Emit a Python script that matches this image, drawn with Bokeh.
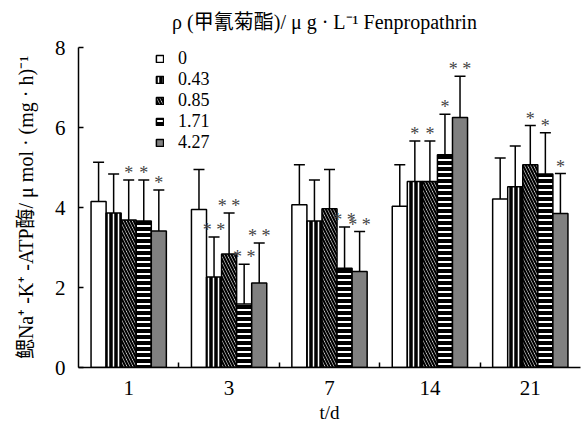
import numpy as np
from bokeh.plotting import figure
from bokeh.models import (Range1d, FixedTicker, Whisker, TeeHead, ColumnDataSource,
                          Legend, LegendItem)
from bokeh.embed import file_html
from bokeh.resources import INLINE
from bokeh.core.properties import value

# ---------------- data ----------------
days = ["1", "3", "7", "14", "21"]
conc_labels = ["0", "0.43", "0.85", "1.71", "4.27"]

mean_0   = [4.15, 3.95, 4.07, 4.03, 4.21]
mean_043 = [3.86, 2.26, 3.66, 4.65, 4.52]
mean_085 = [3.69, 2.84, 3.97, 4.65, 5.07]
mean_171 = [3.66, 1.59, 2.48, 5.32, 4.84]
mean_427 = [3.41, 2.11, 2.40, 6.25, 3.85]

sd_0   = [0.98, 1.00, 1.00, 1.04, 1.03]
sd_043 = [0.98, 1.00, 1.03, 1.01, 1.02]
sd_085 = [1.00, 1.02, 0.98, 1.01, 0.98]
sd_171 = [1.03, 0.99, 1.03, 1.01, 1.03]
sd_427 = [1.03, 1.00, 1.00, 1.03, 1.00]

sig_0   = ["", "", "", "", ""]
sig_043 = ["", "* *", "", "*", ""]
sig_085 = ["*", "* *", "", "*", "*"]
sig_171 = ["*", "* *", "* *", "*", "*"]
sig_427 = ["*", "* *", "* *", "* *", "*"]

means = [mean_0, mean_043, mean_085, mean_171, mean_427]
sds = [sd_0, sd_043, sd_085, sd_171, sd_427]
sigs = [sig_0, sig_043, sig_085, sig_171, sig_427]

# ---------------- styles ----------------
SERIF = "Liberation Serif, Noto Sans CJK SC"
styles = [
    dict(fill_color="white", hatch_pattern=None),
    dict(fill_color="black", hatch_pattern="vertical_line", hatch_color="white",
         hatch_scale=5, hatch_weight=1.5),
    dict(fill_color="white", hatch_pattern="left_diagonal_line", hatch_color="black",
         hatch_scale=6, hatch_weight=2.2),
    dict(fill_color="black", hatch_pattern="horizontal_line", hatch_color="white",
         hatch_scale=6, hatch_weight=2),
    dict(fill_color="#808080", hatch_pattern=None),
]

p = figure(width=586, height=428, output_backend="svg", toolbar_location=None,
           x_range=Range1d(0, len(days)), y_range=Range1d(0, 8),
           min_border_left=78, min_border_right=6, min_border_top=47,
           min_border_bottom=61)
p.outline_line_color = None
p.xgrid.grid_line_color = None
p.ygrid.grid_line_color = None

centers = np.arange(len(days)) + 0.5
bar_w = 0.15
offsets = (np.arange(len(conc_labels)) - (len(conc_labels) - 1) / 2) * bar_w

items = []
for i, lab in enumerate(conc_labels):
    m = np.array(means[i])
    s = np.array(sds[i])
    src = ColumnDataSource(dict(x=centers + offsets[i], mean=m, upper=m + s,
                                sig=sigs[i]))
    st = dict(styles[i])
    hp = st.pop("hatch_pattern")
    kw = dict(st)
    if hp is not None:
        kw["hatch_pattern"] = hp
    r = p.vbar(x="x", top="mean", width=bar_w, source=src, line_color="black",
               line_width=1.5, **kw)
    w = Whisker(base="x", upper="upper", lower="mean", source=src,
                upper_head=TeeHead(size=11, line_width=1.5, line_color="black"),
                lower_head=None, line_width=1.5, line_color="black")
    p.add_layout(w)
    p.text(x="x", y="upper", text="sig", source=src, text_font=value("Liberation Serif"),
           text_font_size="18px", text_align="center", text_baseline="alphabetic",
           y_offset=-7, text_color="#444444")
    items.append(LegendItem(label=lab, renderers=[r]))

legend = Legend(items=items, location=(77, 214), label_text_font=SERIF,
                label_text_font_size="18px", label_text_color="black",
                glyph_height=9, glyph_width=9,
                label_height=14, spacing=0, padding=0, margin=0,
                border_line_color=None, background_fill_alpha=0,
                label_standoff=14)
p.add_layout(legend)

p.title.text = "\u03c1 (甲氰菊酯)/ \u03bc g \u00b7 L\u207b\u00b9   Fenpropathrin\n"
p.title.align = "center"
p.title.vertical_align = "bottom"
p.title.text_font = SERIF
p.title.text_font_size = "20px"
p.title.text_font_style = "normal"
p.title.text_color = "black"
p.title.text_line_height = 0.65
p.title.standoff = 0

# y axis
p.yaxis.ticker = FixedTicker(ticks=[0, 2, 4, 6, 8])
p.yaxis.major_tick_in = 5
p.yaxis.major_tick_out = 0
p.yaxis.minor_tick_line_color = None
p.yaxis.axis_line_width = 1.5
p.yaxis.major_tick_line_width = 1.5
p.yaxis.major_label_text_font = SERIF
p.yaxis.major_label_text_font_size = "21px"
p.yaxis.major_label_text_color = "black"
p.yaxis.major_label_standoff = 13
p.yaxis.axis_label = "鳃Na\u207a -K\u207a -ATP酶/ \u03bc mol \u00b7 (mg \u00b7 h)\u207b\u00b9"
p.yaxis.axis_label_text_font = SERIF
p.yaxis.axis_label_text_font_size = "20px"
p.yaxis.axis_label_text_font_style = "normal"
p.yaxis.axis_label_text_color = "black"
p.yaxis.axis_label_standoff = 15

# x axis
p.xaxis.ticker = FixedTicker(ticks=list(centers), minor_ticks=list(np.arange(1, len(days))))
p.xaxis.major_label_overrides = {float(c): d for c, d in zip(centers, days)}
p.xaxis.major_tick_line_color = None
p.xaxis.major_tick_in = 0
p.xaxis.major_tick_out = 0
p.xaxis.minor_tick_in = 5
p.xaxis.minor_tick_out = 0
p.xaxis.minor_tick_line_width = 1.5
p.xaxis.axis_line_width = 1.5
p.xaxis.major_label_text_font = SERIF
p.xaxis.major_label_text_font_size = "21px"
p.xaxis.major_label_text_color = "black"
p.xaxis.major_label_standoff = 13
p.xaxis.axis_label = "t/d"
p.xaxis.axis_label_text_font = SERIF
p.xaxis.axis_label_text_font_size = "19px"
p.xaxis.axis_label_text_font_style = "normal"
p.xaxis.axis_label_text_color = "black"
p.xaxis.axis_label_standoff = 4

open("out.html", "w").write(file_html(p, INLINE))
